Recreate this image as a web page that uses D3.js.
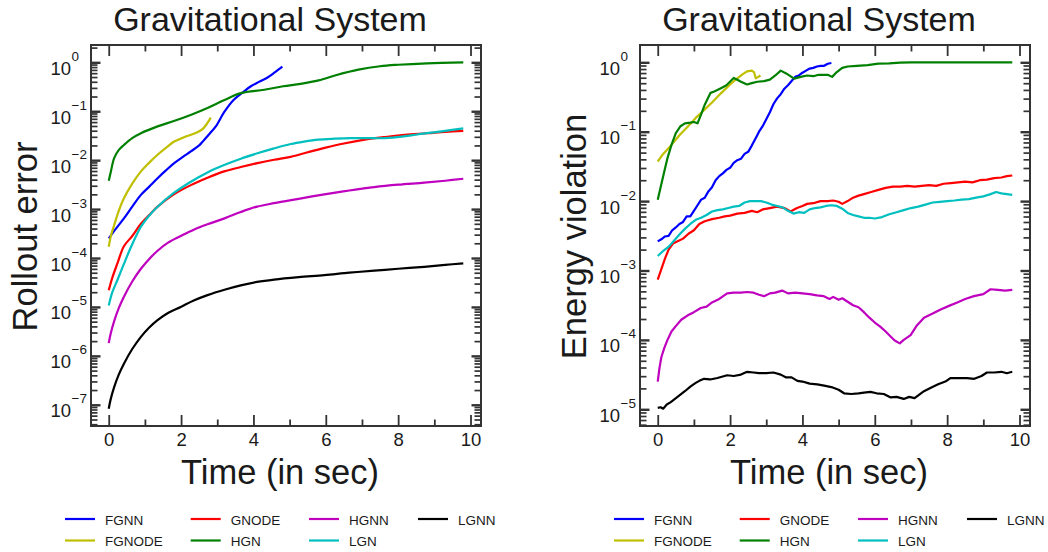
<!DOCTYPE html>
<html>
<head>
<meta charset="utf-8">
<script src="https://cdn.jsdelivr.net/npm/d3@7"></script>
<style>
  body { margin: 0; background: #ffffff; }
  svg { display: block; font-family: "Liberation Sans", Arial, Helvetica, sans-serif; }
</style>
</head>
<body>
<svg id="chart" width="1048" height="552"></svg>
<script>
// ---- labels ----
const seriesNames = ["FGNN", "FGNODE", "GNODE", "HGN", "HGNN", "LGN", "LGNN"];
const seriesColors = ["#0000ff", "#bfbf00", "#ff0000", "#008000", "#bf00bf", "#00bfbf", "#000000"];
const panelTitles = ["Gravitational System", "Gravitational System"];
const yAxisLabels = ["Rollout error", "Energy violation"];
const xAxisLabel = "Time (in sec)";
const xMajorTicks = [0, 2, 4, 6, 8, 10];
const xMinorTicks = [1, 3, 5, 7, 9];

// ---- rollout error (left panel) ----
const rollFGNN_t = [0, 0.2, 0.42, 0.65, 0.89, 1.12, 1.35, 1.58, 1.81, 2.05, 2.27, 2.5, 2.62, 2.8, 2.96, 3.19, 3.45, 3.7, 3.93, 4.15, 4.39, 4.6, 4.8];
const rollFGNN = [2.51e-4, 3.98e-4, 6.46e-4, 1.12e-3, 1.95e-3, 2.88e-3, 4.27e-3, 6.17e-3, 8.71e-3, 1.17e-2, 1.51e-2, 2.0e-2, 2.51e-2, 3.55e-2, 4.90e-2, 9.55e-2, 0.170, 0.240, 0.324, 0.398, 0.490, 0.631, 0.813];

const rollFGNODE_t = [0, 0.06, 0.15, 0.28, 0.42, 0.65, 0.89, 1.12, 1.35, 1.58, 1.81, 2.05, 2.27, 2.45, 2.6, 2.72, 2.82];
const rollFGNODE = [1.70e-4, 2.82e-4, 4.68e-4, 9.33e-4, 1.66e-3, 3.31e-3, 5.89e-3, 8.91e-3, 1.29e-2, 1.78e-2, 2.40e-2, 2.88e-2, 3.31e-2, 3.72e-2, 4.37e-2, 5.62e-2, 7.41e-2];

const rollGNODE_t = [0, 0.1, 0.24, 0.42, 0.65, 0.89, 1.12, 1.35, 1.8, 2.27, 2.73, 3.19, 3.65, 4.11, 4.57, 5.03, 5.5, 5.97, 6.5, 7.08, 7.6, 8.19, 8.8, 9.3, 9.8];
const rollGNODE = [2.19e-5, 3.98e-5, 7.76e-5, 1.74e-4, 2.82e-4, 5.01e-4, 7.59e-4, 1.12e-3, 2.0e-3, 3.09e-3, 4.37e-3, 5.89e-3, 7.24e-3, 8.71e-3, 1.02e-2, 1.17e-2, 1.45e-2, 1.78e-2, 2.19e-2, 2.63e-2, 2.95e-2, 3.31e-2, 3.55e-2, 3.80e-2, 3.98e-2];

const rollHGN_t = [0, 0.06, 0.15, 0.28, 0.42, 0.65, 0.89, 1.35, 1.8, 2.28, 2.73, 3.2, 3.65, 4.3, 4.82, 5.3, 5.8, 6.3, 6.9, 7.5, 8.0, 8.8, 9.8];
const rollHGN = [3.80e-3, 5.89e-3, 1.10e-2, 1.62e-2, 2.04e-2, 2.82e-2, 3.55e-2, 4.90e-2, 6.31e-2, 8.51e-2, 0.117, 0.170, 0.234, 0.275, 0.324, 0.363, 0.427, 0.550, 0.708, 0.832, 0.891, 0.955, 1.0];

const rollHGNN_t = [0, 0.05, 0.15, 0.28, 0.42, 0.65, 0.89, 1.12, 1.35, 1.65, 1.99, 2.35, 2.73, 3.2, 3.65, 4.1, 4.57, 5.25, 5.96, 6.65, 7.34, 8.0, 8.72, 9.3, 9.8];
const rollHGNN = [1.82e-6, 2.75e-6, 5.13e-6, 9.55e-6, 1.62e-5, 3.31e-5, 6.03e-5, 9.55e-5, 1.41e-4, 2.09e-4, 2.82e-4, 3.80e-4, 4.90e-4, 6.46e-4, 8.71e-4, 1.12e-3, 1.32e-3, 1.62e-3, 2.00e-3, 2.40e-3, 2.82e-3, 3.16e-3, 3.47e-3, 3.80e-3, 4.17e-3];

const rollLGN_t = [0, 0.1, 0.24, 0.42, 0.6, 0.79, 0.89, 1.12, 1.35, 1.8, 2.27, 2.73, 3.19, 3.65, 4.11, 4.57, 5.03, 5.4, 5.79, 6.25, 6.71, 7.17, 7.63, 8.1, 8.56, 9.2, 9.8];
const rollLGN = [1.07e-5, 2.0e-5, 3.55e-5, 7.59e-5, 1.58e-4, 3.16e-4, 4.37e-4, 7.41e-4, 1.12e-3, 2.14e-3, 3.63e-3, 5.62e-3, 7.94e-3, 1.07e-2, 1.38e-2, 1.74e-2, 2.14e-2, 2.40e-2, 2.63e-2, 2.75e-2, 2.82e-2, 2.82e-2, 2.82e-2, 3.02e-2, 3.39e-2, 3.89e-2, 4.47e-2];

const rollLGNN_t = [0, 0.05, 0.15, 0.28, 0.42, 0.65, 0.89, 1.12, 1.35, 1.65, 1.99, 2.35, 2.73, 3.2, 3.65, 4.1, 4.57, 5.25, 5.96, 6.65, 7.34, 8.0, 8.72, 9.3, 9.8];
const rollLGNN = [8.32e-8, 1.26e-7, 2.29e-7, 4.17e-7, 6.92e-7, 1.38e-6, 2.45e-6, 3.80e-6, 5.37e-6, 7.59e-6, 1.0e-5, 1.35e-5, 1.74e-5, 2.24e-5, 2.75e-5, 3.24e-5, 3.63e-5, 4.07e-5, 4.47e-5, 5.01e-5, 5.50e-5, 6.03e-5, 6.61e-5, 7.24e-5, 7.76e-5];

// ---- energy violation (right panel) ----
const enFGNN_t = [0, 0.1, 0.2, 0.3, 0.4, 0.5, 0.6, 0.7, 0.8, 0.9, 1.0, 1.1, 1.2, 1.3, 1.4, 1.5, 1.6, 1.7, 1.8, 1.9, 2.0, 2.1, 2.2, 2.3, 2.4, 2.5, 2.6, 2.7, 2.8, 2.9, 3.0, 3.1, 3.2, 3.3, 3.4, 3.5, 3.6, 3.7, 3.8, 3.9, 4.0, 4.1, 4.2, 4.3, 4.4, 4.5, 4.6, 4.7, 4.8];
const enFGNN = [2.63e-3, 2.82e-3, 3.09e-3, 3.16e-3, 3.80e-3, 4.17e-3, 4.68e-3, 5.01e-3, 6.03e-3, 6.03e-3, 7.24e-3, 8.71e-3, 1.05e-2, 1.12e-2, 1.38e-2, 1.58e-2, 2.00e-2, 2.29e-2, 2.51e-2, 2.82e-2, 3.02e-2, 3.55e-2, 3.89e-2, 4.07e-2, 4.79e-2, 5.13e-2, 6.31e-2, 7.94e-2, 0.100, 0.120, 0.151, 0.191, 0.251, 0.302, 0.347, 0.417, 0.468, 0.537, 0.617, 0.646, 0.708, 0.759, 0.813, 0.832, 0.871, 0.891, 0.891, 0.955, 0.977];

const enFGNODE_t = [0, 0.15, 0.38, 0.6, 0.84, 1.05, 1.3, 1.5, 1.76, 2.0, 2.2, 2.35, 2.47, 2.6, 2.66, 2.71, 2.78, 2.84];
const enFGNODE = [3.72e-2, 4.79e-2, 6.46e-2, 8.91e-2, 0.120, 0.158, 0.209, 0.263, 0.363, 0.479, 0.589, 0.676, 0.741, 0.759, 0.724, 0.589, 0.617, 0.646];

const enGNODE_t = [0, 0.1, 0.2, 0.3, 0.42, 0.55, 0.7, 0.85, 1.0, 1.15, 1.3, 1.5, 1.7, 1.85, 2.0, 2.2, 2.4, 2.6, 2.75, 2.9, 3.1, 3.3, 3.5, 3.67, 3.85, 4.0, 4.13, 4.3, 4.5, 4.7, 4.85, 5.0, 5.1, 5.25, 5.4, 5.55, 5.7, 5.9, 6.1, 6.3, 6.5, 6.7, 6.9, 7.1, 7.3, 7.5, 7.7, 7.9, 8.1, 8.3, 8.5, 8.7, 8.9, 9.1, 9.3, 9.5, 9.65, 9.8];
const enGNODE = [7.41e-4, 1.05e-3, 1.48e-3, 2.00e-3, 2.45e-3, 2.63e-3, 2.88e-3, 3.39e-3, 3.80e-3, 4.68e-3, 5.13e-3, 5.50e-3, 5.75e-3, 6.03e-3, 6.17e-3, 6.61e-3, 6.76e-3, 7.24e-3, 6.92e-3, 7.59e-3, 7.94e-3, 8.32e-3, 7.94e-3, 7.08e-3, 7.94e-3, 8.51e-3, 9.12e-3, 9.33e-3, 1.00e-2, 1.00e-2, 1.02e-2, 9.77e-3, 9.12e-3, 1.00e-2, 1.12e-2, 1.20e-2, 1.26e-2, 1.35e-2, 1.45e-2, 1.55e-2, 1.62e-2, 1.62e-2, 1.66e-2, 1.62e-2, 1.66e-2, 1.70e-2, 1.66e-2, 1.78e-2, 1.82e-2, 1.86e-2, 1.91e-2, 1.86e-2, 2.00e-2, 2.04e-2, 2.14e-2, 2.19e-2, 2.29e-2, 2.34e-2];

const enHGN_t = [0, 0.08, 0.17, 0.27, 0.38, 0.5, 0.63, 0.75, 0.9, 1.0, 1.1, 1.2, 1.3, 1.46, 1.56, 1.65, 1.76, 1.9, 2.1, 2.2, 2.3, 2.47, 2.6, 2.75, 2.94, 3.1, 3.25, 3.4, 3.55, 3.77, 3.95, 4.13, 4.3, 4.45, 4.59, 4.7, 4.82, 4.95, 5.1, 5.25, 5.5, 5.8, 6.1, 6.4, 6.7, 7.0, 7.5, 8.0, 9.0, 9.8];
const enHGN = [1.05e-2, 1.58e-2, 2.51e-2, 4.17e-2, 6.46e-2, 9.55e-2, 0.120, 0.132, 0.135, 0.138, 0.132, 0.178, 0.245, 0.363, 0.380, 0.398, 0.427, 0.468, 0.596, 0.562, 0.525, 0.479, 0.501, 0.525, 0.537, 0.562, 0.646, 0.759, 0.692, 0.582, 0.617, 0.646, 0.631, 0.661, 0.661, 0.661, 0.617, 0.724, 0.832, 0.871, 0.891, 0.912, 0.955, 0.966, 0.989, 1.0, 1.0, 1.0, 1.0, 1.0];

const enHGNN_t = [0, 0.05, 0.1, 0.18, 0.27, 0.38, 0.5, 0.65, 0.82, 1.0, 1.19, 1.35, 1.5, 1.7, 1.92, 2.1, 2.3, 2.47, 2.65, 2.8, 2.94, 3.1, 3.25, 3.44, 3.6, 3.8, 4.0, 4.2, 4.4, 4.59, 4.75, 4.85, 5.0, 5.1, 5.25, 5.4, 5.55, 5.7, 5.85, 6.0, 6.15, 6.3, 6.45, 6.55, 6.69, 6.8, 6.99, 7.15, 7.36, 7.6, 7.82, 8.05, 8.28, 8.5, 8.74, 9.0, 9.2, 9.4, 9.6, 9.8];
const enHGNN = [2.51e-5, 3.98e-5, 5.62e-5, 7.59e-5, 1.00e-4, 1.32e-4, 1.58e-4, 1.95e-4, 2.24e-4, 2.51e-4, 2.88e-4, 3.02e-4, 3.47e-4, 3.89e-4, 4.68e-4, 4.79e-4, 4.79e-4, 4.90e-4, 4.79e-4, 4.47e-4, 4.27e-4, 4.68e-4, 4.79e-4, 5.13e-4, 4.68e-4, 4.79e-4, 4.68e-4, 4.57e-4, 4.37e-4, 4.27e-4, 3.89e-4, 4.17e-4, 3.80e-4, 3.98e-4, 3.55e-4, 3.16e-4, 2.95e-4, 2.51e-4, 2.09e-4, 1.78e-4, 1.55e-4, 1.32e-4, 1.10e-4, 9.77e-5, 8.91e-5, 1.00e-4, 1.17e-4, 1.58e-4, 2.09e-4, 2.40e-4, 2.75e-4, 3.09e-4, 3.47e-4, 3.89e-4, 4.27e-4, 4.57e-4, 5.37e-4, 5.25e-4, 5.13e-4, 5.25e-4];

const enLGN_t = [0, 0.15, 0.3, 0.45, 0.6, 0.75, 0.9, 1.05, 1.2, 1.35, 1.5, 1.65, 1.8, 1.95, 2.1, 2.25, 2.4, 2.55, 2.7, 2.85, 3.0, 3.15, 3.3, 3.45, 3.6, 3.75, 3.9, 4.05, 4.2, 4.35, 4.5, 4.65, 4.8, 4.95, 5.1, 5.25, 5.4, 5.55, 5.7, 5.85, 6.0, 6.2, 6.4, 6.6, 6.8, 7.0, 7.2, 7.4, 7.6, 7.8, 8.0, 8.2, 8.4, 8.6, 8.8, 9.0, 9.2, 9.35, 9.5, 9.65, 9.8];
const enLGN = [1.62e-3, 1.91e-3, 2.19e-3, 2.69e-3, 3.31e-3, 3.98e-3, 4.68e-3, 5.37e-3, 5.75e-3, 6.31e-3, 7.08e-3, 7.41e-3, 7.59e-3, 7.94e-3, 8.32e-3, 8.51e-3, 9.55e-3, 1.00e-2, 1.00e-2, 1.00e-2, 9.55e-3, 8.91e-3, 8.51e-3, 8.13e-3, 7.24e-3, 6.61e-3, 6.92e-3, 6.76e-3, 7.59e-3, 7.94e-3, 8.13e-3, 8.51e-3, 8.71e-3, 8.51e-3, 7.76e-3, 6.76e-3, 6.31e-3, 6.03e-3, 5.75e-3, 5.75e-3, 5.62e-3, 5.89e-3, 6.46e-3, 6.92e-3, 7.41e-3, 7.94e-3, 8.32e-3, 8.91e-3, 9.55e-3, 9.77e-3, 1.00e-2, 1.02e-2, 1.05e-2, 1.07e-2, 1.12e-2, 1.17e-2, 1.26e-2, 1.35e-2, 1.29e-2, 1.26e-2, 1.23e-2];

const enLGNN_t = [0, 0.08, 0.15, 0.25, 0.35, 0.45, 0.6, 0.75, 0.91, 1.05, 1.15, 1.28, 1.45, 1.65, 1.92, 2.1, 2.3, 2.47, 2.65, 2.8, 3.0, 3.2, 3.4, 3.55, 3.7, 3.86, 4.0, 4.2, 4.41, 4.6, 4.8, 5.0, 5.15, 5.35, 5.55, 5.7, 5.88, 6.05, 6.25, 6.44, 6.6, 6.8, 6.95, 7.1, 7.36, 7.55, 7.75, 7.95, 8.09, 8.3, 8.55, 8.75, 8.95, 9.1, 9.3, 9.5, 9.65, 9.8];
const enLGNN = [1.05e-5, 1.07e-5, 1.02e-5, 1.17e-5, 1.26e-5, 1.38e-5, 1.58e-5, 1.82e-5, 2.14e-5, 2.40e-5, 2.57e-5, 2.75e-5, 2.69e-5, 2.82e-5, 3.09e-5, 3.02e-5, 3.16e-5, 3.47e-5, 3.39e-5, 3.31e-5, 3.31e-5, 3.39e-5, 3.16e-5, 2.88e-5, 2.88e-5, 2.57e-5, 2.51e-5, 2.34e-5, 2.29e-5, 2.19e-5, 2.09e-5, 1.91e-5, 1.70e-5, 1.66e-5, 1.70e-5, 1.74e-5, 1.78e-5, 1.70e-5, 1.66e-5, 1.48e-5, 1.51e-5, 1.41e-5, 1.51e-5, 1.45e-5, 1.82e-5, 2.04e-5, 2.29e-5, 2.51e-5, 2.82e-5, 2.82e-5, 2.82e-5, 2.75e-5, 3.02e-5, 3.39e-5, 3.39e-5, 3.47e-5, 3.31e-5, 3.47e-5];

// ---- assemble panels ----
const zipSeries = (ts, vs) => ts.map((t, i) => ({ t, v: vs[i] }));

const panels = [
  {
    dx: 0,
    title: panelTitles[0],
    ylabel: yAxisLabels[0],
    curve: d3.curveCatmullRom.alpha(0.5),
    lines: [
      zipSeries(rollFGNN_t, rollFGNN),
      zipSeries(rollFGNODE_t, rollFGNODE),
      zipSeries(rollGNODE_t, rollGNODE),
      zipSeries(rollHGN_t, rollHGN),
      zipSeries(rollHGNN_t, rollHGNN),
      zipSeries(rollLGN_t, rollLGN),
      zipSeries(rollLGNN_t, rollLGNN)
    ]
  },
  {
    dx: 549,
    title: panelTitles[1],
    ylabel: yAxisLabels[1],
    curve: d3.curveLinear,
    lines: [
      zipSeries(enFGNN_t, enFGNN),
      zipSeries(enFGNODE_t, enFGNODE),
      zipSeries(enGNODE_t, enGNODE),
      zipSeries(enHGN_t, enHGN),
      zipSeries(enHGNN_t, enHGNN),
      zipSeries(enLGN_t, enLGN),
      zipSeries(enLGNN_t, enLGNN)
    ]
  }
];

// ---- geometry of one panel (before horizontal offset) ----
const L = 91, R = 481, T = 45, B = 426;
const frameColor = "#333333";
const textColor = "#1a1a1a";
const svg = d3.select("#chart");

svg.append("rect").attr("width", 1048).attr("height", 552).attr("fill", "#ffffff");

panels.forEach((p, pi) => {
  const g = svg.append("g").attr("transform", `translate(${p.dx},0)`);

  // autoscaled limits with 5% margins (linear in x, in decades for y)
  const all = p.lines.flat();
  const tMin = d3.min(all, d => d.t), tMax = d3.max(all, d => d.t);
  const tPad = (tMax - tMin) * 0.05;
  const lMin = Math.log10(d3.min(all, d => d.v)), lMax = Math.log10(d3.max(all, d => d.v));
  const lPad = (lMax - lMin) * 0.05;

  const x = d3.scaleLinear().domain([tMin - tPad, tMax + tPad]).range([L, R]);
  const y = d3.scaleLog().domain([Math.pow(10, lMin - lPad), Math.pow(10, lMax + lPad)]).range([B, T]);

  const [yLo, yHi] = y.domain();
  const yMajor = [], yMinor = [];
  for (let k = Math.floor(Math.log10(yLo)); k <= Math.ceil(Math.log10(yHi)); k++) {
    const base = Math.pow(10, k);
    if (base >= yLo && base <= yHi) yMajor.push(base);
    for (let m = 2; m <= 9; m++) {
      const v = m * base;
      if (v >= yLo && v <= yHi) yMinor.push(v);
    }
  }

  // data lines
  const clipId = `clip${pi}`;
  g.append("clipPath").attr("id", clipId)
    .append("rect").attr("x", L).attr("y", T).attr("width", R - L).attr("height", B - T);

  const line = d3.line().x(d => x(d.t)).y(d => y(d.v)).curve(p.curve);
  g.append("g").attr("clip-path", `url(#${clipId})`)
    .selectAll("path")
    .data(p.lines)
    .join("path")
    .attr("d", line)
    .attr("fill", "none")
    .attr("stroke", (d, i) => seriesColors[i])
    .attr("stroke-width", 2.2)
    .attr("stroke-linejoin", "round")
    .attr("stroke-linecap", "butt");

  // ticks (all pointing inward)
  const styleAxis = (sel, w) => {
    sel.select(".domain").remove();
    sel.selectAll(".tick line").attr("stroke", frameColor).attr("stroke-width", w);
  };

  g.append("g").attr("transform", `translate(0,${B})`)
    .call(d3.axisBottom(x).tickValues(xMajorTicks).tickSizeInner(-11).tickSizeOuter(0)
      .tickPadding(7).tickFormat(d3.format("d")))
    .call(s => styleAxis(s, 1.8))
    .call(s => s.selectAll("text").attr("font-size", 18.5).attr("fill", textColor)
      .attr("font-family", "'Liberation Sans', Arial, sans-serif"));
  g.append("g").attr("transform", `translate(0,${B})`)
    .call(d3.axisBottom(x).tickValues(xMinorTicks).tickSizeInner(-6.5).tickSizeOuter(0).tickFormat(""))
    .call(s => styleAxis(s, 1.8));
  g.append("g").attr("transform", `translate(0,${T})`)
    .call(d3.axisTop(x).tickValues(xMajorTicks).tickSizeInner(-11).tickSizeOuter(0).tickFormat(""))
    .call(s => styleAxis(s, 1.8));
  g.append("g").attr("transform", `translate(0,${T})`)
    .call(d3.axisTop(x).tickValues(xMinorTicks).tickSizeInner(-6.5).tickSizeOuter(0).tickFormat(""))
    .call(s => styleAxis(s, 1.8));

  [[d3.axisLeft, L], [d3.axisRight, R]].forEach(([axisFn, pos]) => {
    g.append("g").attr("transform", `translate(${pos},0)`)
      .call(axisFn(y).tickValues(yMajor).tickSizeInner(-9.5).tickSizeOuter(0).tickFormat(""))
      .call(s => styleAxis(s, 2.4));
    g.append("g").attr("transform", `translate(${pos},0)`)
      .call(axisFn(y).tickValues(yMinor).tickSizeInner(-6.5).tickSizeOuter(0).tickFormat(""))
      .call(s => styleAxis(s, 1.7));
  });

  // log tick labels: "10" with a raised exponent
  const yl = g.append("g").attr("fill", textColor);
  yMajor.forEach(v => {
    const k = Math.round(Math.log10(v));
    const yy = y(v);
    yl.append("text").attr("x", L - 20).attr("y", yy + 12.5)
      .attr("text-anchor", "end").attr("font-size", 18.5).text("10");
    yl.append("text").attr("x", L - 19.5).attr("y", yy - 1.5)
      .attr("text-anchor", "start").attr("font-size", 13.5)
      .text(k < 0 ? "\u2212" + Math.abs(k) : String(k));
  });

  // frame
  g.append("rect").attr("x", L).attr("y", T).attr("width", R - L).attr("height", B - T)
    .attr("fill", "none").attr("stroke", frameColor).attr("stroke-width", 2);

  // titles and axis labels
  g.append("text").attr("x", 270).attr("y", 31).attr("text-anchor", "middle")
    .attr("font-size", 34).attr("fill", textColor).text(p.title);
  g.append("text").attr("x", 280).attr("y", 484).attr("text-anchor", "middle")
    .attr("font-size", 34.5).attr("fill", textColor).text(xAxisLabel);
  g.append("text").attr("transform", `translate(36.5,${(T + B) / 2 + 1}) rotate(-90)`)
    .attr("text-anchor", "middle").attr("font-size", 34.5).attr("fill", textColor).text(p.ylabel);

  // legend: four columns, filled column by column
  const colX = [65, 190.7, 309, 418];
  const rowY = [519, 540.5];
  const leg = g.append("g");
  seriesNames.forEach((name, i) => {
    const c = Math.floor(i / 2), r = i % 2;
    const lx = colX[c], ly = rowY[r];
    leg.append("line").attr("x1", lx).attr("x2", lx + 30).attr("y1", ly).attr("y2", ly)
      .attr("stroke", seriesColors[i]).attr("stroke-width", 2.2);
    leg.append("text").attr("x", lx + 40).attr("y", ly + 5.5)
      .attr("font-size", 13.5).attr("fill", textColor).text(name);
  });
});
</script>
</body>
</html>
